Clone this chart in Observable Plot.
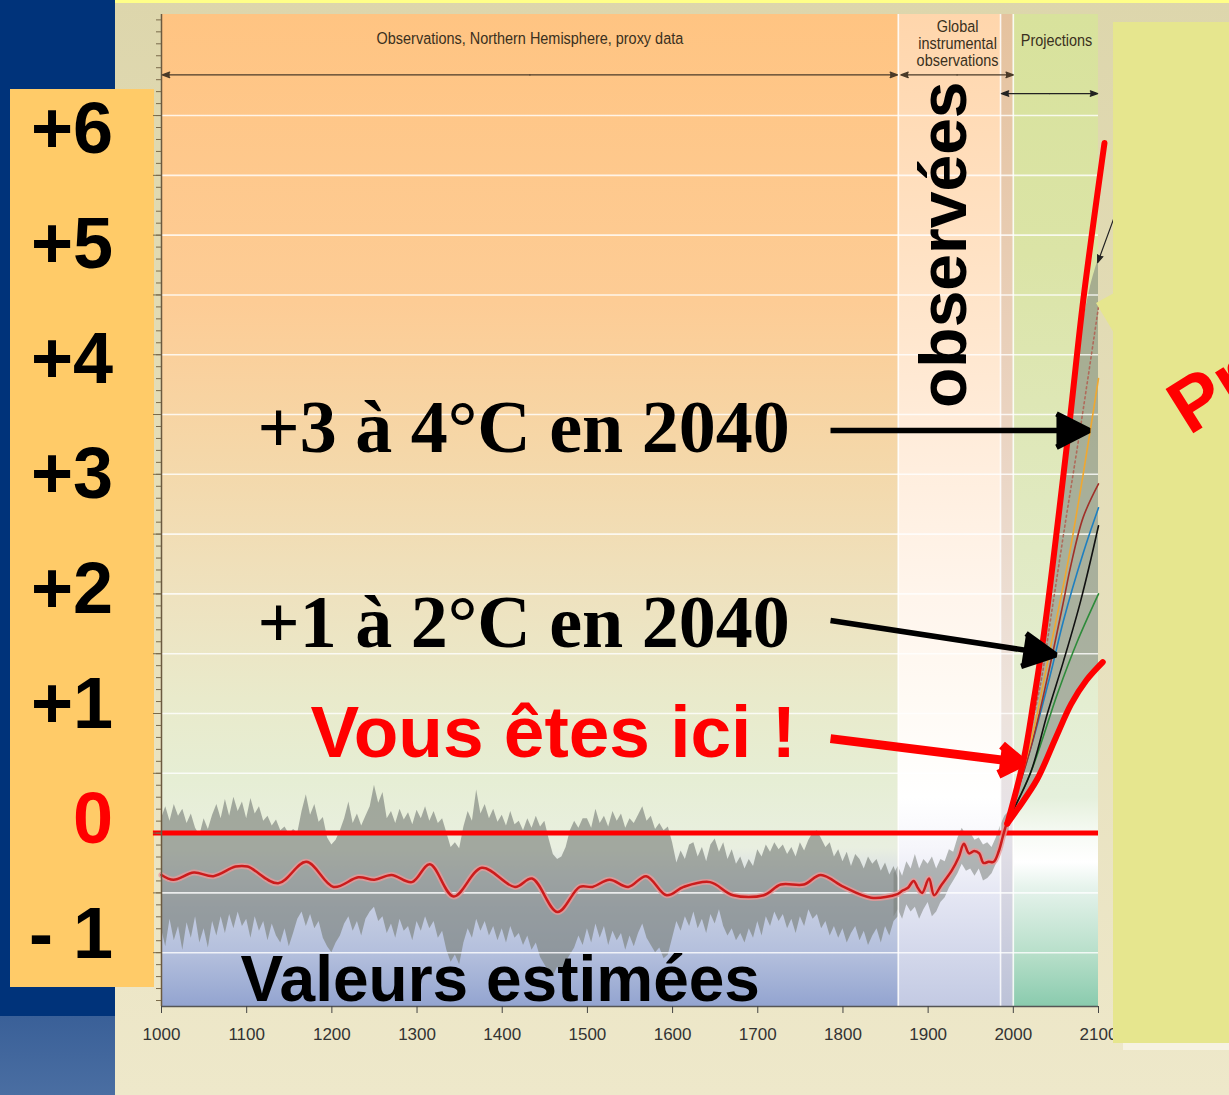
<!DOCTYPE html>
<html><head><meta charset="utf-8">
<script src="https://cdn.jsdelivr.net/npm/d3@7"></script>
<script src="https://cdn.jsdelivr.net/npm/@observablehq/plot@0.6"></script>
<style>
html,body{margin:0;padding:0;background:#EEE8CA;}
#page{position:relative;width:1229px;height:1095px;overflow:hidden;background:linear-gradient(#DDD6AC,#EEE8CA);font-family:"Liberation Sans",Arial,sans-serif;}
.abs{position:absolute;}
#blue1{left:0;top:0;width:115px;height:1016px;background:#00337A;}
#blue2{left:0;top:1016px;width:115px;height:79px;background:linear-gradient(#3A6098,#4A6EA2);}
#topstrip{left:115px;top:0;width:1114px;height:3px;background:#FFFF88;}
#labelbox{left:10px;top:89px;width:144px;height:898px;background:#FFCB68;}
.ylab{position:absolute;left:0;width:103px;height:80px;line-height:80px;text-align:right;font-size:72px;font-weight:bold;color:#000;white-space:pre;}
#chart{left:0;top:0;}
#yellow{left:1113px;top:22px;width:116px;height:1021px;background:#E6E68E;}
#notch{left:1096px;top:293px;width:18px;height:40px;background:#E6E68E;clip-path:polygon(100% 0,0 25%,100% 100%);}
#ystrip{left:1123px;top:1043px;width:106px;height:7px;background:#F6F2E2;}
#pr{left:1189px;top:436px;font-size:76px;line-height:1;font-weight:bold;color:#FF0000;white-space:nowrap;transform-origin:0 0;transform:rotate(-32deg) translateY(-64px);}
</style></head>
<body>
<div id="page">
  <div id="blue1" class="abs"></div>
  <div id="blue2" class="abs"></div>
  <div id="topstrip" class="abs"></div>
  <div id="labelbox" class="abs"></div>
  <div id="chart" class="abs"></div>
  <div id="yellow" class="abs"></div>
  <div id="notch" class="abs"></div>
  <div id="ystrip" class="abs"></div>
  <div id="pr" class="abs">Prévisions</div>
</div>
<script>
// ---------- data ----------
const xTicks = [1000,1100,1200,1300,1400,1500,1600,1700,1800,1900,2000,2100];
const yLabels = ["+6","+5","+4","+3","+2","+1","0","- 1"];
const gridValues = [-1,-0.5,0,0.5,1,1.5,2,2.5,3,3.5,4,4.5,5,5.5,6];
const regionNames = ["proxy","instrumental","strip","projections"];
const regionStarts = [1000,1865,1985,2000];
const regionEnds = [1865,1985,2000,2100];
const boundaryYears = [1865,1985,2000];
const headerTexts = ["Observations, Northern Hemisphere, proxy data", "Global\ninstrumental\nobservations", "Projections"];

// proxy uncertainty band (annual proxy range), every 5 years from 1000
const proxyStart = 1000, proxyStep = 5;
const proxyUpper = [
 0.12,0.22,0.10,0.24,0.14,0.20,0.08,0.16,0.04,-0.02,
 0.12,0.03,0.15,0.24,0.12,0.28,0.14,0.30,0.18,0.26,
 0.12,0.29,0.16,0.22,0.10,0.14,0.06,0.11,0.02,0.05,
 -0.01,0.03,0.00,0.18,0.32,0.15,0.24,0.09,0.13,-0.04,
 -0.10,-0.06,0.02,0.12,0.26,0.08,0.16,0.06,0.14,0.22,
 0.40,0.25,0.34,0.12,0.18,0.08,0.20,0.11,0.17,0.07,
 0.19,0.12,0.22,0.10,0.18,0.08,0.12,0.00,-0.12,-0.08,
 -0.13,0.05,0.18,0.10,0.36,0.16,0.24,0.12,0.20,0.09,
 0.15,0.06,0.18,0.07,0.10,0.02,0.12,0.04,0.14,0.05,
 0.10,-0.05,-0.18,-0.22,-0.20,-0.12,0.02,0.10,0.04,0.12,
 0.12,0.04,0.20,0.08,0.14,0.05,0.18,0.10,0.16,0.04,
 0.12,0.08,0.15,0.22,0.10,0.14,0.03,0.08,0.02,0.05,
 -0.08,-0.25,-0.15,-0.22,-0.10,-0.08,-0.20,-0.12,-0.24,-0.10,
 -0.05,-0.16,-0.08,-0.22,-0.14,-0.26,-0.20,-0.30,-0.22,-0.28,
 -0.14,-0.20,-0.10,-0.16,-0.08,-0.14,-0.10,-0.18,-0.12,-0.20,
 -0.08,-0.15,-0.06,0.00,0.02,-0.05,-0.12,-0.08,-0.20,-0.14,
 -0.24,-0.16,-0.28,-0.18,-0.22,-0.30,-0.20,-0.26,-0.22,-0.32,
 -0.25,-0.35,-0.28,-0.38];
const proxyLower = [
 -0.80,-0.95,-0.72,-0.90,-0.78,-0.98,-0.75,-0.88,-0.70,-0.92,
 -0.80,-0.96,-0.74,-0.86,-0.70,-0.84,-0.68,-0.80,-0.66,-0.78,
 -0.72,-0.88,-0.70,-0.82,-0.74,-0.90,-0.76,-0.86,-0.92,-0.80,
 -0.95,-0.84,-0.72,-0.66,-0.78,-0.68,-0.80,-0.74,-0.88,-0.95,
 -1.00,-0.92,-0.86,-0.76,-0.70,-0.82,-0.74,-0.86,-0.72,-0.66,
 -0.62,-0.74,-0.70,-0.84,-0.76,-0.88,-0.72,-0.82,-0.78,-0.90,
 -0.74,-0.82,-0.70,-0.80,-0.74,-0.88,-0.82,-0.98,-1.08,-1.02,
 -1.10,-0.92,-0.80,-0.88,-0.72,-0.82,-0.74,-0.86,-0.78,-0.90,
 -0.80,-0.92,-0.78,-0.88,-0.84,-0.94,-0.86,-0.98,-0.92,-1.04,
 -1.10,-1.16,-1.20,-1.12,-1.18,-1.08,-1.02,-0.96,-0.86,-0.94,
 -0.80,-0.92,-0.76,-0.88,-0.78,-0.94,-0.82,-0.90,-0.84,-0.98,
 -0.86,-0.95,-0.84,-0.76,-0.88,-0.94,-1.00,-0.96,-1.05,-1.02,
 -0.88,-0.74,-0.82,-0.70,-0.78,-0.66,-0.80,-0.72,-0.84,-0.68,
 -0.76,-0.64,-0.78,-0.86,-0.80,-0.90,-0.84,-0.92,-0.80,-0.88,
 -0.74,-0.86,-0.70,-0.78,-0.66,-0.74,-0.68,-0.80,-0.72,-0.84,
 -0.70,-0.78,-0.64,-0.72,-0.68,-0.80,-0.74,-0.86,-0.78,-0.88,
 -0.80,-0.92,-0.84,-0.78,-0.90,-0.82,-0.94,-0.86,-0.80,-0.92,
 -0.78,-0.86,-0.74,-0.70];

// 50-year smoothed proxy reconstruction
const smoothYears = [1000,1014,1038,1061,1087,1101,1137,1170,1202,1231,1250,1270,1294,1315,1343,1376,1415,1435,1465,1491,1506,1526,1548,1569,1593,1613,1644,1671,1707,1727,1754,1774,1801,1833,1864];
const smoothVals = [-0.35,-0.39,-0.33,-0.36,-0.28,-0.28,-0.42,-0.24,-0.45,-0.37,-0.39,-0.35,-0.41,-0.26,-0.53,-0.29,-0.45,-0.38,-0.66,-0.45,-0.45,-0.39,-0.45,-0.36,-0.52,-0.45,-0.41,-0.52,-0.52,-0.43,-0.43,-0.35,-0.45,-0.54,-0.51];

// instrumental record
const instYears = [1864,1870,1876,1883,1888,1893,1901,1907,1915,1928,1936,1942,1948,1954,1960,1965,1971,1977,1983,1988,1992];
const instVals = [-0.51,-0.48,-0.46,-0.40,-0.46,-0.50,-0.38,-0.52,-0.44,-0.31,-0.20,-0.09,-0.17,-0.15,-0.17,-0.25,-0.24,-0.24,-0.15,-0.02,0.08];
const instBandStart = 1860, instBandStep = 5;
const instUpper = [-0.34,-0.28,-0.36,-0.24,-0.30,-0.18,-0.30,-0.22,-0.26,-0.20,-0.30,-0.22,-0.24,-0.14,-0.16,-0.04,0.04,-0.02,0.00,-0.06,-0.04,-0.10,-0.08,-0.12,-0.04,0.06,0.14,0.18];
const instLower = [-0.70,-0.64,-0.72,-0.60,-0.66,-0.62,-0.72,-0.64,-0.58,-0.70,-0.66,-0.58,-0.54,-0.46,-0.40,-0.34,-0.26,-0.32,-0.30,-0.36,-0.30,-0.40,-0.38,-0.34,-0.26,-0.12,-0.04,0.00];

// projections: envelope of all scenarios
const envYears = [1993,2000,2010,2020,2030,2040,2050,2060,2070,2080,2090,2100];
const envUpper = [0.08,0.25,0.55,0.93,1.38,1.88,2.45,3.02,3.60,4.18,4.55,4.80];
const envLower = [0.08,0.15,0.24,0.36,0.48,0.64,0.80,0.96,1.11,1.22,1.31,1.39];

// scenario curves
const scenDotYears = [1993,2010,2032,2044,2059,2079,2100];
const scenDotVals = [0.1,0.55,1.25,1.8,2.5,3.4,4.4];
const scenOrangeYears = [1993,2020,2045,2065,2082,2100];
const scenOrangeVals = [0.1,0.75,1.6,2.3,3.0,3.8];
const scenBrownYears = [1993,2020,2040,2059,2067,2082,2100];
const scenBrownVals = [0.1,0.7,1.3,1.94,2.22,2.64,2.92];
const scenBlueYears = [1993,2020,2044,2059,2082,2100];
const scenBlueVals = [0.1,0.7,1.34,1.78,2.34,2.72];
const scenBlackYears = [1993,2020,2040,2059,2079,2100];
const scenBlackVals = [0.1,0.5,1.0,1.44,1.94,2.57];
const scenGreenYears = [1993,2020,2052,2075,2100];
const scenGreenVals = [0.1,0.5,1.17,1.6,2.0];

// hand-drawn red bounds of the projections
const redUpperYears = [1993,2012,2024,2036,2065,2082,2107];
const redUpperVals = [0.08,0.61,1.11,1.67,3.37,4.45,5.77];
const redLowerYears = [1993,2005,2028,2050,2068,2086,2105];
const redLowerVals = [0.08,0.20,0.45,0.80,1.08,1.28,1.43];

// ---------- build tables ----------
const zip = (xs, ys) => xs.map((x, i) => ({x, y: ys[i]}));
const band = (start, step, up, lo) => up.map((u, i) => ({x: start + i * step, hi: u, lo: lo[i]}));
const proxyBand = band(proxyStart, proxyStep, proxyUpper, proxyLower);
const instBand = band(instBandStart, instBandStep, instUpper, instLower);
const envBand = envYears.map((x, i) => ({x, hi: envUpper[i], lo: envLower[i]}));
const smoothLine = zip(smoothYears, smoothVals).concat(zip(instYears, instVals).slice(1));

const yDomain = [-1.45, 6.845];

const gradStops = {
  proxy: [[0,"#FFC482"],[0.29,"#FDCC95"],[0.44,"#F5D7A8"],[0.59,"#EEE2BF"],[0.69,"#E9EACB"],[0.77,"#E6EED4"],[0.84,"#E9EFE0"],[0.87,"#D8DEE6"],[0.9,"#C6CEE2"],[0.95,"#B2BEDC"],[1,"#93A4D0"]],
  instrumental: [[0,"#FFD6AC"],[0.24,"#FFE2C4"],[0.44,"#FFEDDC"],[0.59,"#FFF5EC"],[0.69,"#FFFAF4"],[0.79,"#FFFFFF"],[0.84,"#F6F6FB"],[0.89,"#E4E6F3"],[1,"#C3CAE3"]],
  strip: [[0,"#E5C29E"],[0.4,"#EAD3C0"],[0.7,"#EDE3DC"],[0.82,"#E6E2E8"],[1,"#BCC2D8"]],
  projections: [[0,"#D8E29C"],[0.24,"#DBE4A6"],[0.44,"#DFE8BA"],[0.59,"#E2EBC8"],[0.69,"#E4EED1"],[0.79,"#E5F0DC"],[0.83,"#F8FBF6"],[0.855,"#FFFFFF"],[0.88,"#E6F3EC"],[0.95,"#B5DEC8"],[1,"#8ACBAE"]]
};

const sans = "Liberation Sans, Arial, sans-serif";
const serif = "Liberation Serif, Times New Roman, serif";
const gray = "#7A807A";

function doubleArrow(x1, x2, y, color) {
  const m = (x1 + x2) / 2;
  const o = {stroke: color, strokeWidth: 1.3, fill: color, headLength: 9, headAngle: 40, strokeLinejoin: "miter"};
  return [Plot.arrow([0], {x1: m, x2: x2, y1: y, y2: y, ...o}), Plot.arrow([0], {x1: m, x2: x1, y1: y, y2: y, ...o})];
}
const scen = (xs, ys, color, extra = {}) => Plot.line(zip(xs, ys), {x: "x", y: "y", stroke: color, strokeWidth: 1.6, curve: "catmull-rom", ...extra});
const hdr = {fontSize: 17, fontFamily: sans, fill: "#3A3020", lineAnchor: "middle"};

const marks = [];
regionNames.forEach((n, i) => marks.push(Plot.rect([0], {x1: regionStarts[i], x2: regionEnds[i], y1: yDomain[0], y2: yDomain[1], fill: `url(#grad-${n})`})));
marks.push(
  Plot.areaY(proxyBand, {x: "x", y1: "lo", y2: "hi", fill: gray, fillOpacity: 0.64}),
  Plot.areaY(instBand, {x: "x", y1: "lo", y2: "hi", fill: gray, fillOpacity: 0.55}),
  Plot.areaY(envBand, {x: "x", y1: "lo", y2: "hi", fill: gray, fillOpacity: 0.55, curve: "catmull-rom"}),
  Plot.ruleY(gridValues, {stroke: "white", strokeOpacity: 0.8, strokeWidth: 1.6}),
  Plot.ruleX(boundaryYears, {stroke: "white", strokeOpacity: 0.85, strokeWidth: 1.6}),
  Plot.ruleY([0], {x1: 990.5, x2: 2100, stroke: "#FF0000", strokeWidth: 5}),
  Plot.line(smoothLine, {x: "x", y: "y", stroke: "#E89A9A", strokeWidth: 6, strokeOpacity: 0.8, curve: "catmull-rom"}),
  Plot.line(smoothLine, {x: "x", y: "y", stroke: "#CC1C1C", strokeWidth: 2.5, curve: "catmull-rom"}),
  scen(scenGreenYears, scenGreenVals, "#2E8B3A"),
  scen(scenBlackYears, scenBlackVals, "#111111"),
  scen(scenBlueYears, scenBlueVals, "#1E7FC0"),
  scen(scenBrownYears, scenBrownVals, "#A03028"),
  scen(scenOrangeYears, scenOrangeVals, "#F0A830"),
  scen(scenDotYears, scenDotVals, "#B06A5A", {strokeDasharray: "2,3"}),
  Plot.line(zip(redLowerYears, redLowerVals), {x: "x", y: "y", stroke: "#FF0000", strokeWidth: 6, curve: "catmull-rom"}),
  Plot.line(zip(redUpperYears, redUpperVals), {x: "x", y: "y", stroke: "#FF0000", strokeWidth: 6, curve: "catmull-rom"}),
  Plot.ruleX([1000], {stroke: "#6B5A40", strokeWidth: 1.5}),
  Plot.ruleY([yDomain[0]], {stroke: "#555555", strokeWidth: 1.5}),
  Plot.axisX(xTicks, {anchor: "bottom", tickSize: 7, tickPadding: 14, tickFormat: d => String(d), fontSize: 17, fontFamily: sans, stroke: "#444", fill: "#333", label: null}),
  Plot.axisY(d3.range(-14, 69).map(d => d / 10), {anchor: "left", tickSize: 5, tickFormat: () => "", stroke: "#7A6A4A", label: null}),
  Plot.axisY(gridValues, {anchor: "left", tickSize: 8, tickFormat: () => "", stroke: "#7A6A4A", label: null}),
  // header texts
  Plot.text([headerTexts[0]], {x: (regionStarts[0] + regionEnds[0]) / 2, y: 6.644, ...hdr}),
  Plot.text([headerTexts[1]], {x: 1934.5, y: 6.602, lineHeight: 0.98, ...hdr}),
  Plot.text([headerTexts[2]], {x: 2050.7, y: 6.627, ...hdr}),
  ...doubleArrow(1001, 1864, 6.34, "#4A3A28"),
  ...doubleArrow(1868, 2000, 6.34, "#4A3A28"),
  ...doubleArrow(1986, 2099, 6.184, "#222"),
  Plot.arrow([0], {x1: 2120, y1: 5.18, x2: 2099, y2: 4.77, stroke: "#222", strokeWidth: 1.2, fill: "#222", headLength: 10, headAngle: 40}),
  // annotations
  Plot.text(["observées"], {x: 1944, y: 4.92, rotate: -90, fontSize: 66, fontWeight: "bold", fontFamily: sans, fill: "#000", textAnchor: "middle", lineAnchor: "bottom"}),
  Plot.text(["+3 à 4°C en 2040"], {x: 1112.7, y: 3.185, fontSize: 74, fontWeight: "bold", fontFamily: serif, fill: "#000", textAnchor: "start", lineAnchor: "bottom"}),
  Plot.text(["+1 à 2°C en 2040"], {x: 1112.7, y: 1.554, fontSize: 74, fontWeight: "bold", fontFamily: serif, fill: "#000", textAnchor: "start", lineAnchor: "bottom"}),
  Plot.text(["Vous êtes ici !"], {x: 1174.9, y: 0.64, fontSize: 73, fontWeight: "bold", fontFamily: sans, fill: "#FF0000", textAnchor: "start", lineAnchor: "bottom"}),
  Plot.text(["Valeurs estimées"], {x: 1092.7, y: -1.40, fontSize: 64, fontWeight: "bold", fontFamily: sans, fill: "#000", textAnchor: "start", lineAnchor: "bottom"}),
  Plot.arrow([0], {x1: 1785.4, y1: 3.366, x2: 2089, y2: 3.366, stroke: "#000", strokeWidth: 5.5, fill: "#000", headLength: 10, headAngle: 54, strokeLinejoin: "miter", strokeLinecap: "butt"}),
  Plot.arrow([0], {x1: 1785.4, y1: 1.778, x2: 2050, y2: 1.49, stroke: "#000", strokeWidth: 5.5, fill: "#000", headLength: 10, headAngle: 54, strokeLinejoin: "miter", strokeLinecap: "butt"}),
  Plot.arrow([0], {x1: 1785.4, y1: 0.79, x2: 2011, y2: 0.59, stroke: "#FF0000", strokeWidth: 9, fill: "#FF0000", headLength: 4.5, headAngle: 66, strokeLinejoin: "miter", strokeLinecap: "butt"})
);

const svg = Plot.plot({
  width: 1229, height: 1095,
  marginLeft: 161, marginRight: 131, marginTop: 14, marginBottom: 89,
  x: {domain: [1000, 2100], label: null},
  y: {domain: yDomain, label: null},
  style: {background: "transparent", fontFamily: sans, fontSize: "17px", overflow: "visible"},
  marks
});

const defs = d3.select(svg).insert("defs", ":first-child");
for (const n of regionNames) {
  defs.append("linearGradient").attr("id", `grad-${n}`).attr("x1", 0).attr("y1", 0).attr("x2", 0).attr("y2", 1)
    .selectAll("stop").data(gradStops[n]).join("stop")
    .attr("offset", d => d[0]).attr("stop-color", d => d[1]);
}
// condensed look for the small header texts (horizontal squeeze around their anchor)
const headerStarts = headerTexts.map(t => t.split("\n")[0]);
d3.select(svg).selectAll("text").each(function () {
  const s = this.textContent || "";
  if (!headerStarts.some(h => s.startsWith(h))) return;
  const t = this.getAttribute("transform");
  if (t) this.setAttribute("transform", t + " scale(0.85,1)");
  else {
    const x = parseFloat(this.getAttribute("x")) || 0, y = parseFloat(this.getAttribute("y")) || 0;
    this.setAttribute("transform", `translate(${x},${y}) scale(0.85,1) translate(${-x},${-y})`);
  }
});
document.getElementById("chart").appendChild(svg);

// y labels in the orange box
const page = document.getElementById("page");
yLabels.forEach((t, i) => {
  const d = document.createElement("div");
  d.className = "ylab";
  d.textContent = t;
  d.style.left = "10px";
  d.style.top = (128 + 115 * i - 40) + "px";
  if (t === "0") d.style.color = "#FF0000";
  page.appendChild(d);
});
</script>
</body></html>
